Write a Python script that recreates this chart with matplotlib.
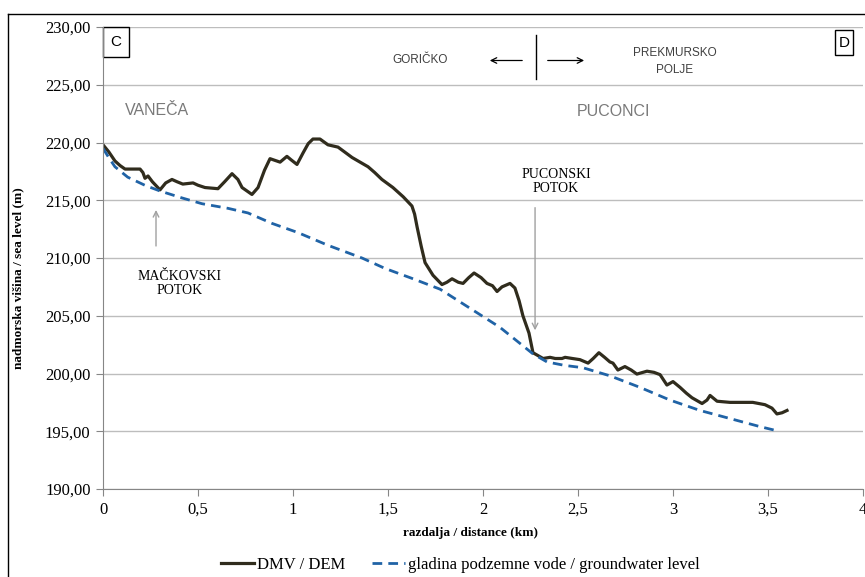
import numpy as np
import matplotlib
matplotlib.use('Agg')
import matplotlib.pyplot as plt
from matplotlib.patches import Rectangle
from matplotlib.lines import Line2D

# DMV / DEM profil
dem_x = [0, 0.03, 0.063, 0.09, 0.116, 0.195, 0.21, 0.221, 0.237, 0.26, 0.30, 0.33, 0.363, 0.39,
         0.42, 0.474, 0.50, 0.537, 0.605, 0.64, 0.679, 0.71, 0.732, 0.784, 0.816, 0.85, 0.879,
         0.932, 0.968, 0.99, 1.021, 1.053, 1.08, 1.105, 1.142, 1.184, 1.237, 1.27, 1.311, 1.395,
         1.43, 1.468, 1.526, 1.58, 1.626, 1.64, 1.653, 1.675, 1.695, 1.737, 1.784, 1.81, 1.837,
         1.87, 1.895, 1.925, 1.953, 1.99, 2.021, 2.05, 2.074, 2.10, 2.142, 2.168, 2.19, 2.21,
         2.242, 2.263, 2.316, 2.353, 2.38, 2.416, 2.432, 2.47, 2.51, 2.553, 2.58, 2.61, 2.64,
         2.668, 2.684, 2.71, 2.747, 2.78, 2.81, 2.863, 2.90, 2.932, 2.968, 3.0, 3.037, 3.07,
         3.1, 3.153, 3.179, 3.195, 3.232, 3.3, 3.42, 3.484, 3.521, 3.547, 3.574, 3.6]
dem_y = [219.8, 219.2, 218.4, 218.0, 217.7, 217.7, 217.4, 216.9, 217.1, 216.6, 215.9, 216.5, 216.8, 216.6,
         216.4, 216.5, 216.3, 216.1, 216.0, 216.6, 217.3, 216.8, 216.1, 215.5, 216.1, 217.6, 218.6,
         218.3, 218.8, 218.5, 218.1, 219.1, 219.9, 220.3, 220.3, 219.8, 219.6, 219.2, 218.7, 217.9,
         217.4, 216.8, 216.1, 215.3, 214.5, 213.8, 212.7, 211.0, 209.6, 208.5, 207.7, 207.9, 208.2,
         207.9, 207.8, 208.3, 208.7, 208.3, 207.8, 207.6, 207.1, 207.5, 207.8, 207.4, 206.3, 205.0,
         203.5, 201.8, 201.3, 201.4, 201.3, 201.3, 201.4, 201.3, 201.2, 200.9, 201.3, 201.8, 201.4,
         201.0, 200.9, 200.3, 200.6, 200.3, 199.95, 200.2, 200.1, 199.9, 199.0, 199.3, 198.8, 198.3,
         197.9, 197.4, 197.7, 198.1, 197.6, 197.5, 197.5, 197.3, 197.0, 196.5, 196.6, 196.8]

# gladina podzemne vode
gw_x = [0, 0.03, 0.063, 0.13, 0.22, 0.30, 0.416, 0.521, 0.658, 0.763, 0.889, 1.026, 1.184, 1.363,
        1.484, 1.632, 1.774, 1.879, 1.984, 2.089, 2.195, 2.263, 2.337, 2.43, 2.526, 2.668, 2.826,
        2.984, 3.142, 3.3, 3.458, 3.558]
gw_y = [219.5, 218.7, 217.9, 217.0, 216.3, 215.8, 215.2, 214.7, 214.3, 213.9, 213.0, 212.2, 211.1, 210.0,
        209.1, 208.2, 207.3, 206.2, 205.1, 204.0, 202.6, 201.7, 201.0, 200.7, 200.5, 199.8, 198.8,
        197.7, 196.8, 196.1, 195.4, 195.0]

x_ticks = [0, 0.5, 1, 1.5, 2, 2.5, 3, 3.5, 4]
x_labels = ['0', '0,5', '1', '1,5', '2', '2,5', '3', '3,5', '4']
y_ticks = [190, 195, 200, 205, 210, 215, 220, 225, 230]
y_labels = ['%d,00' % v for v in y_ticks]

serif = 'Liberation Serif'
sans = 'Liberation Sans'

fig = plt.figure(figsize=(8.65, 5.77), dpi=100)
ax = fig.add_axes([103/865, 88/577, 760/865, 462/577])

ax.plot(dem_x, dem_y, color='#302c1d', lw=2.3, label='DMV / DEM', solid_joinstyle='round')
ax.plot(gw_x, gw_y, color='#2063a6', lw=2.0, dashes=(3.5, 2.2), label='gladina podzemne vode / groundwater level')

ax.set_xlim(0, 4)
ax.set_ylim(190, 230)
ax.set_xticks(x_ticks)
ax.set_xticklabels(x_labels, fontfamily=serif, fontsize=12)
ax.set_yticks(y_ticks)
ax.set_yticklabels(y_labels, fontfamily=serif, fontsize=12)
ax.tick_params(length=5, color='#868686', pad=4)
ax.grid(axis='y', color='#bdbdbd', lw=1)
ax.set_axisbelow(True)
for s in ['top', 'right']:
    ax.spines[s].set_visible(False)
for s in ['left', 'bottom']:
    ax.spines[s].set_color('#868686')

ax.set_xlabel('razdalja / distance (km)', fontfamily=serif, fontsize=9.5, fontweight='bold')
ax.xaxis.set_label_coords(0.483, -0.083)
ax.set_ylabel('nadmorska višina / sea level (m)', fontfamily=serif, fontsize=9.5, fontweight='bold')
ax.yaxis.set_label_coords(-0.104, 0.457)

# oznake C in D
ax.add_patch(Rectangle((0, 0.935), 0.034, 0.065, transform=ax.transAxes, fill=False, ec='black', lw=1, clip_on=False))
ax.text(0.017, 0.9675, 'C', transform=ax.transAxes, ha='center', va='center', fontfamily=sans, fontsize=11)
ax.add_patch(Rectangle((0.963, 0.939), 0.0237, 0.054, transform=ax.transAxes, fill=False, ec='black', lw=1, clip_on=False))
ax.text(0.975, 0.966, 'D', transform=ax.transAxes, ha='center', va='center', fontfamily=sans, fontsize=11)

# napisi
ax.text(0.284, 222.8, 'VANEČA', ha='center', va='center', fontfamily=sans, fontsize=11.5, color='#7a7a7a')
ax.text(2.689, 222.7, 'PUCONCI', ha='center', va='center', fontfamily=sans, fontsize=11.5, color='#7a7a7a')
ax.text(1.668, 227.1, 'GORIČKO', ha='center', va='center', fontfamily=sans, fontsize=8.5, color='#404040')
ax.text(3.01, 227.0, 'PREKMURSKO\nPOLJE', ha='center', va='center', fontfamily=sans, fontsize=8.5,
        color='#404040', linespacing=1.5)
ax.plot([2.279, 2.279], [225.5, 229.3], color='black', lw=1)
ax.annotate('', xy=(2.021, 227.1), xytext=(2.221, 227.1),
            arrowprops=dict(arrowstyle='->', color='black', lw=0.9))
ax.annotate('', xy=(2.547, 227.1), xytext=(2.326, 227.1),
            arrowprops=dict(arrowstyle='->', color='black', lw=0.9))

ax.text(2.384, 216.6, 'PUCONSKI\nPOTOK', ha='center', va='center', fontfamily=serif, fontsize=10, linespacing=1.1)
ax.annotate('', xy=(2.274, 203.5), xytext=(2.274, 214.6),
            arrowprops=dict(arrowstyle='->', color='#a0a0a0', lw=1))
ax.text(0.405, 207.8, 'MAČKOVSKI\nPOTOK', ha='center', va='center', fontfamily=serif, fontsize=10, linespacing=1.1)
ax.annotate('', xy=(0.279, 214.4), xytext=(0.279, 210.8),
            arrowprops=dict(arrowstyle='->', color='#a0a0a0', lw=1))

fig.legend(loc='center', bbox_to_anchor=(0.532, 0.021), ncol=2, frameon=False,
           prop={'family': serif, 'size': 12}, handlelength=2.0, handletextpad=0.15, columnspacing=1.6)

# okvir grafikona
fig.add_artist(Line2D([8/865, 8/865], [0, 563/577], color='black', lw=1, transform=fig.transFigure))
fig.add_artist(Line2D([8/865, 1], [563/577, 563/577], color='black', lw=1, transform=fig.transFigure))

fig.savefig('out.png', dpi=100)
